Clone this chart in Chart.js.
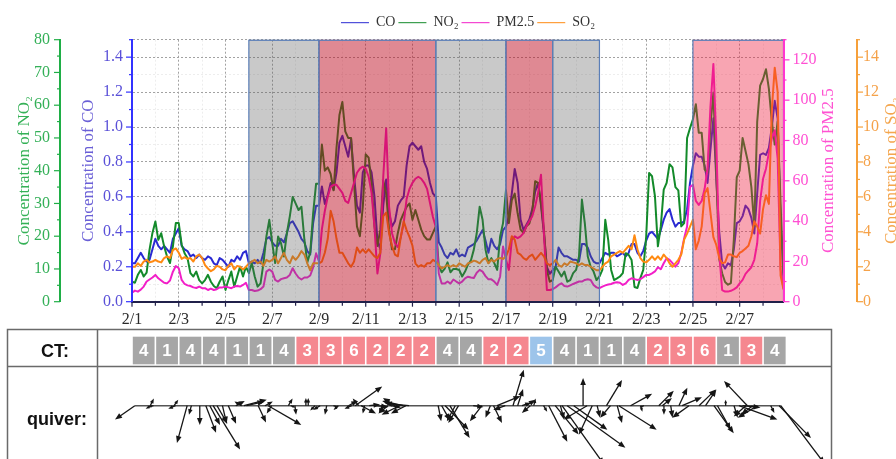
<!DOCTYPE html>
<html>
<head>
<meta charset="utf-8">
<script src="https://cdn.jsdelivr.net/npm/chart.js@4.4.0/dist/chart.umd.min.js"></script>
<style>
  html, body { margin: 0; padding: 0; background: #ffffff; overflow: hidden; }
  #wrap { position: relative; width: 896px; height: 459px; }
</style>
</head>
<body>
<div id="wrap"><canvas id="chart" width="896" height="459"></canvas></div>
<script>
// ---- time base: one sample every 3 h, 2/1 00:00 -> 2/28 21:00 (x in days since 2/1) ----
const STEP_DAYS = 3 / 24;

// CO concentration (mg/m3), 8 samples per day
const co = [
  0.22,0.22,0.25,0.28,0.25,0.23,0.24,0.30,
  0.36,0.32,0.30,0.32,0.30,0.28,0.36,0.39,
  0.42,0.32,0.30,0.29,0.26,0.27,0.25,0.27,
  0.25,0.24,0.26,0.25,0.22,0.21,0.25,0.24,
  0.22,0.20,0.24,0.23,0.26,0.24,0.28,0.29,
  0.22,0.23,0.22,0.24,0.22,0.28,0.36,0.37,
  0.34,0.32,0.32,0.36,0.34,0.39,0.45,0.46,
  0.43,0.40,0.36,0.34,0.29,0.27,0.45,0.55,
  0.55,0.66,0.56,0.61,0.68,0.64,0.74,0.91,
  0.95,0.89,0.83,0.93,0.72,0.55,0.51,0.74,
  0.78,0.78,0.74,0.60,0.35,0.30,0.55,0.70,
  0.51,0.43,0.46,0.55,0.58,0.60,0.78,0.89,
  0.91,0.89,0.87,0.89,0.80,0.76,0.68,0.62,
  0.60,0.34,0.31,0.27,0.25,0.28,0.27,0.30,
  0.26,0.27,0.26,0.31,0.32,0.33,0.35,0.38,
  0.41,0.35,0.28,0.36,0.32,0.30,0.33,0.41,
  0.43,0.49,0.62,0.76,0.68,0.47,0.41,0.44,
  0.47,0.53,0.63,0.68,0.55,0.39,0.20,0.16,
  0.18,0.20,0.31,0.28,0.26,0.26,0.25,0.24,
  0.24,0.23,0.33,0.33,0.31,0.26,0.23,0.22,
  0.22,0.25,0.28,0.27,0.28,0.28,0.26,0.27,
  0.28,0.26,0.28,0.33,0.33,0.28,0.26,0.29,
  0.35,0.39,0.40,0.38,0.36,0.41,0.47,0.51,
  0.53,0.47,0.43,0.45,0.45,0.46,0.53,0.68,
  0.78,0.85,0.83,0.83,0.78,0.68,0.87,1.05,
  0.70,0.40,0.22,0.19,0.22,0.21,0.30,0.45,
  0.46,0.49,0.55,0.53,0.48,0.39,0.62,0.84,
  0.85,0.84,0.88,1.00,1.15,1.05,0.45,0.15
];

// NO2 concentration
const no2 = [
  6.1,5.8,8.2,9.7,7.7,8.9,15.9,21,
  24.5,18.9,20.9,16.9,13.8,11.8,16.9,24,
  24,17.4,14.8,13.3,8.7,7.7,9.2,6.6,
  5.6,6.6,8.2,6.1,4.8,4.1,6.1,7.7,
  3.6,6.6,9.2,4.6,7.7,10.7,7.7,10.7,
  8.7,11.8,7.7,4.6,5.6,11.8,19.9,25,
  17.9,11.8,19.9,17.9,13.8,20.9,26,32,
  30,28,29,19,12,15,27,36,
  36,48,40,41,39,34,47,57,
  61,52,50,50,36,23,20,29,
  45,44,36,23,17,22,37,33,
  22,16,16,21,25,27,29,30,
  25,28,25,22,20,19,19,21,
  23,11,9,10,12,9,10,10,
  9.7,7.7,9.2,11.3,12.6,15.9,20.9,29,
  25,15.9,11.8,13.3,11.8,9.7,19.9,24,
  34,24,31,33,27,22,21,23,
  23.9,27.1,36.8,36.3,30.2,21.9,9.7,6.1,
  6.6,10.7,9.2,7.7,9.2,6.1,6.6,8.7,
  9.7,13.8,31.2,23.9,13.8,10.7,9.2,6.6,
  7.7,9.7,25,18.9,9.7,6.6,7.1,7.7,
  8.7,14.8,14.3,12.7,4.5,4.2,7.2,9.7,
  19.9,39.3,38.3,32.2,16.9,23,34.2,36.3,
  42,41,35,34,23,24,50,53,
  55.7,60.3,51.6,51.6,40.4,39.3,53.7,63.9,
  39,13,8.7,6,5.2,5.7,19,38,
  40,50,46,42,35,23,55,66,
  68,71,65,55,48,55,30,7
];

// PM2.5 concentration
const pm25 = [
  4.5,5.5,5.0,6.0,7.5,10,11,12,
  13.3,11.6,10.5,9.4,9.1,10.5,14.9,17.7,
  16.6,10.8,8.8,8.1,7.8,7.1,6.8,7.5,
  6.7,6.7,5.8,6.5,5.8,6.2,7.1,7.1,
  7.5,7.1,6.7,7.5,7.8,7.5,8.3,9.4,
  5.8,5.8,5.3,5.5,6.2,7.5,14.9,16,
  14.9,10.8,10,11.2,11.6,12,13.3,16.6,
  14,12,11,12,12,13,17,24,
  20,36,45,52,57,58,58,56,
  54,50,49,54,59,64,66,67,
  66,62,54,37,14,24,62,86,
  47,34,29,27,32,39,51,56,
  59,61,62,61,59,56,49,42,
  37,14,9,9,10,9,11,10,
  9.1,10,11.6,12.4,12,11.8,14.4,15.8,
  14.9,12.7,11.1,11.1,10,8.3,12.4,27.4,
  20.8,15.8,30.7,32.4,31.5,32.4,34,37.4,
  39.9,42.4,47.4,54,63,34,5.8,5.8,
  6.2,7.1,8.3,9.1,7.8,7.5,8.1,8.8,
  9.4,10,10,10.8,11.1,10.8,8.3,7.1,
  6.7,7.5,8.1,8.5,8.8,9.4,9.7,9.4,
  8.3,9.1,10.8,11.6,11.2,10.8,11.2,12.2,
  13.3,13.3,14.1,15,17.1,16.1,19.1,21.6,
  20.8,19.1,17.4,19.1,24.1,31.5,37.3,57,
  58,50,48,50,56,66,97,118,
  80,24,5.8,5.0,5.0,5.4,6.1,7.1,
  9.1,10.8,13.8,15.5,17.1,20.8,29,50,
  61,66,74,81,85,71,16,6.6
];

// SO2 concentration
const so2 = [
  2.0,2.0,2.2,2.05,2.3,2.4,2.25,2.3,
  2.4,2.3,2.25,2.5,2.6,2.5,2.95,3.05,
  2.8,2.45,2.55,2.45,2.5,2.3,2.6,2.7,
  2.5,2.1,1.9,1.75,1.85,2.05,2.0,1.85,
  1.8,2.05,2.2,1.85,2.05,2.0,1.85,2.0,
  2.2,2.3,2.4,2.2,2.3,2.05,2.4,2.3,
  2.4,2.6,2.2,2.5,2.8,2.4,2.2,2.6,
  2.4,2.6,2.9,2.7,2.2,1.8,2.2,2.2,
  2.2,2.3,2.8,3.6,5.2,4.6,3.6,2.8,
  2.8,2.5,2.2,2.0,2.3,3.1,2.8,3.0,
  2.8,3.0,2.8,2.6,2.5,2.8,4.9,5.1,
  3.9,3.2,2.7,2.6,3.7,4.6,4.1,3.7,
  3.2,2.2,2.0,2.1,2.0,2.2,2.2,2.4,
  2.3,2.1,1.9,2.0,2.1,2.0,2.1,2.0,
  2.2,2.1,2.0,2.2,2.25,2.35,2.3,2.2,
  2.4,2.5,2.2,2.4,2.3,2.45,2.5,2.45,
  2.6,3.0,3.75,3.55,2.8,2.7,2.5,2.4,
  2.6,2.7,2.4,2.6,2.8,2.6,2.2,2.1,
  2.2,2.4,2.1,2.0,2.2,2.1,2.3,2.25,
  2.2,2.1,2.2,2.1,2.1,2.0,1.9,1.8,
  1.8,2.0,2.2,2.3,2.6,2.7,2.8,2.9,
  2.8,3.0,3.2,3.0,3.8,3.0,2.5,2.3,
  2.25,2.4,2.6,2.4,2.6,2.4,2.7,2.5,
  2.2,2.0,2.2,2.4,2.7,3.55,3.9,4.3,
  4.7,3.0,3.5,4.3,6.2,6.5,5.1,3.7,
  3.25,2.5,2.2,2.25,2.7,2.7,2.6,2.55,
  2.8,2.9,3.05,3.2,3.75,4.6,4.3,3.9,
  5.3,6.1,5.6,11.0,13.4,12.0,1.5,0.7
];

// date labels on every second day
const xTickLabels = ['2/1','2/3','2/5','2/7','2/9','2/11','2/13','2/15','2/17','2/19','2/21','2/23','2/25','2/27'];

// pollution episodes shaded behind the series (start/end in days since 2/1)
const episodeStart = [5, 8, 13, 16, 18, 24];
const episodeEnd   = [8, 13, 16, 18, 20, 27.875];
const episodeKind  = ['gray', 'red', 'gray', 'red', 'gray', 'pink'];

// daily circulation type
const ctType = [4,1,4,4,1,1,4,3,3,6,2,2,2,4,4,2,2,5,4,1,1,4,2,3,6,1,3,4];

// wind vectors (day of origin, u and v components in m/s)
const quiverDay = [0.12,0.78,0.84,0.92,1.80,1.86,2.36,2.54,2.90,3.16,3.33,3.47,3.64,3.87,4.12,4.44,4.69,4.79,4.90,5.40,
  5.69,5.83,5.97,6.69,6.79,6.97,7.44,7.54,7.83,8.05,8.33,8.62,8.83,9.26,9.40,9.55,9.70,9.80,9.95,10.15,
  10.40,10.70,10.95,11.10,11.25,11.45,11.60,11.72,11.85,13.10,13.25,13.40,13.60,13.83,13.97,14.60,14.97,15.33,15.47,15.62,
  15.97,16.30,16.50,16.69,16.87,17.04,17.19,17.61,17.83,18.11,18.33,18.40,18.62,18.90,19.30,19.47,19.69,19.90,20.30,20.47,
  20.76,20.83,21.33,21.76,21.90,22.54,22.69,22.76,23.05,23.40,23.54,23.83,24.26,24.54,24.90,25.05,25.40,25.76,25.97,26.12,
  26.26,26.33,26.55,26.76,27.33,27.69,27.76];
const quiverU = [-3.3,0.6,-1.0,-0.9,0.7,-1.2,-1.7,-0.4,0.0,1.7,1.7,4.5,1.7,0.7,1.3,1.5,-1.2,3.8,3.0,1.3,
  1.3,5.5,-0.8,0.7,0.8,0.2,0.0,0.0,-0.8,-1.2,-0.3,0.8,-0.8,1.5,-1.2,4.5,-1.0,2.5,-0.3,1.8,
  2.2,-0.5,-1.6,1.6,-2.0,-3.0,-3.5,-2.5,-4.0,0.5,1.4,3.9,3.3,-1.4,-1.7,1.7,-2.0,-0.8,1.4,3.9,
  -2.0,1.8,0.9,1.4,1.5,-1.4,0.3,0.6,3.1,3.9,0.6,7.0,9.7,5.6,0.0,-3.9,-2.2,0.5,2.6,-1.7,
  0.8,6.3,3.6,0.3,-0.7,2.5,1.6,0.0,0.3,1.4,3.3,-2.8,2.8,1.8,3.3,2.2,0.0,0.6,6.4,3.0,
  -2.0,-3.9,-1.9,-3.3,0.6,5.3,7.3];
const quiverV = [-2.3,1.2,-0.5,-0.2,1.0,-0.5,-6.2,-1.5,-3.2,-4.5,-3.2,-7.3,-3.0,-3.0,-3.0,0.8,0.7,1.0,0.7,-2.8,
  0.7,-3.2,-1.3,1.2,-0.3,-1.5,1.3,1.3,-0.8,-0.7,-1.5,-0.3,-0.7,0.8,-0.5,3.2,1.2,-1.3,-1.3,0.2,
  -0.2,-1.2,-1.3,-0.3,1.3,-1.5,0.8,-1.3,0.4,-2.6,-2.5,-4.0,-5.4,-2.6,-2.9,-0.2,-2.6,-2.0,-2.9,1.6,
  -0.7,6.0,2.8,0.5,1.0,-1.2,1.2,-1.0,-6.0,-4.8,-2.3,-9.8,-7.0,-4.0,4.6,-2.3,-4.8,-2.0,4.3,-2.0,
  -2.9,-4.0,2.0,-1.0,-0.3,2.5,1.3,-1.5,-2.0,3.0,1.4,-2.0,2.7,2.7,-4.6,-4.0,1.0,-2.0,-2.3,-0.3,
  -1.8,4.1,-1.5,-2.0,-1.2,-5.4,-9.7];

// ---- styling ----
const SERIF = '"Liberation Serif", "Times New Roman", serif';
const SANS = '"Liberation Sans", Arial, sans-serif';
const LINE = { co: '#2a2ad2', no2: '#138a2a', pm: '#f21fc8', so2: '#ff8a12' };
const AXIS = {
  yNO2: { line: '#1fae46', text: '#34b058', title: '#35b157' },
  yCO:  { line: '#3232ff', text: '#5a50d8', title: '#6a5fd6' },
  yPM:  { line: '#ff36d0', text: '#ff4fd3', title: '#ff52d2' },
  ySO2: { line: '#f6a03a', text: '#f5a24a', title: '#f4a64e' }
};
const EPISODE_FILL = {
  gray: 'rgba(90,90,90,0.33)',
  red:  'rgba(189,9,29,0.48)',
  pink: 'rgba(237,30,62,0.4)'
};
const CT_FILL = { 1: '#a6a6a6', 4: '#a6a6a6', 2: '#f5878f', 3: '#f5878f', 6: '#f5878f', 5: '#9dc4ea' };

const isMultiple = (v, step) => Math.abs(v / step - Math.round(v / step)) < 1e-6;
const toPoints = arr => arr.map((v, i) => ({ x: i * STEP_DAYS, y: v }));

function yAxis(id, position, weight, max, step, labelStep, fmt, width, pad) {
  const withGrid = id === 'yCO';
  return {
    type: 'linear', position, weight, min: 0, max,
    ticks: {
      stepSize: step, autoSkip: false, padding: pad, color: AXIS[id].text,
      font: { family: SERIF, size: 16 },
      callback: v => (isMultiple(v, labelStep) ? fmt(v) : '')
    },
    grid: {
      display: withGrid, drawOnChartArea: withGrid, drawTicks: false, lineWidth: 1,
      color: c => (isMultiple(c.tick.value, labelStep) || c.tick.value >= max - 1e-9) ? '#a2a2a2' : 'rgba(0,0,0,0.07)'
    },
    border: { display: true, color: AXIS[id].line, width: 2, z: 1, dash: withGrid ? [2, 2] : [] },
    title: { display: false },
    afterFit: s => { s.width = width; }
  };
}

// ---- drawing helpers for the overlays and the lower table ----
function arrow(ctx, x0, y0, x1, y1) {
  const dx = x1 - x0, dy = y1 - y0, L = Math.hypot(dx, dy);
  if (L < 0.5) return;
  const ux = dx / L, uy = dy / L;
  const h = Math.min(7, L * 0.6), w = h * 0.4;
  ctx.beginPath();
  ctx.moveTo(x0, y0);
  ctx.lineTo(x1 - ux * h * 0.7, y1 - uy * h * 0.7);
  ctx.stroke();
  ctx.beginPath();
  ctx.moveTo(x1, y1);
  ctx.lineTo(x1 - ux * h - uy * w, y1 - uy * h + ux * w);
  ctx.lineTo(x1 - ux * h + uy * w, y1 - uy * h - ux * w);
  ctx.closePath();
  ctx.fill();
}

const legendShift = {
  id: 'legendShift',
  afterLayout(chart) {
    const l = chart.legend;
    if (l) { l.left += 20; l.right += 20; }
  }
};

const panels = {
  id: 'panels',
  afterDatasetsDraw(chart) {
    const { ctx, chartArea: a } = chart;
    const x = chart.scales.x;
    ctx.save();
    ctx.beginPath();
    ctx.rect(a.left, a.top - 1, a.right - a.left, a.bottom - a.top + 1);
    ctx.clip();
    for (let i = 0; i < episodeStart.length; i++) {
      const x0 = x.getPixelForValue(episodeStart[i]);
      const x1 = x.getPixelForValue(episodeEnd[i]);
      ctx.fillStyle = EPISODE_FILL[episodeKind[i]];
      ctx.fillRect(x0, a.top, x1 - x0, a.bottom - a.top);
      ctx.strokeStyle = '#5b7fb8';
      ctx.lineWidth = 1.2;
      ctx.strokeRect(x0, a.top + 0.6, x1 - x0, a.bottom - a.top);
    }
    ctx.restore();
  },
  afterDraw(chart) {
    const { ctx, chartArea: a } = chart;
    const x = chart.scales.x;
    const line = (x0, y0, x1, y1) => { ctx.beginPath(); ctx.moveTo(x0, y0); ctx.lineTo(x1, y1); ctx.stroke(); };

    // tick marks: longer on labelled values, shorter in between
    ctx.save();
    ctx.lineWidth = 1.2;
    ctx.strokeStyle = '#20204a';
    x.ticks.forEach(t => {
      const p = x.getPixelForValue(t.value);
      line(p, a.bottom, p, a.bottom + (t.value % 2 === 0 ? 5 : 4));
    });
    [['yNO2', -1, 10], ['yCO', -1, 0.2], ['yPM', 1, 20], ['ySO2', 1, 2]].forEach(([id, dir, every]) => {
      const s = chart.scales[id];
      const edge = dir < 0 ? s.right : s.left;
      ctx.strokeStyle = AXIS[id].line;
      s.ticks.forEach(t => {
        const p = s.getPixelForValue(t.value);
        line(edge, p, edge + dir * (isMultiple(t.value, every) ? 6 : 3), p);
      });
    });
    ctx.restore();

    // rotated axis titles, all reading bottom-to-top
    const midY = (a.top + a.bottom) / 2;
    [['yNO2', 'Concentration of NO₂', 25], ['yCO', 'Concentration of CO', 29],
     ['yPM', 'Concentration of PM2.5', 45], ['ySO2', 'Concentration of SO₂', 35]].forEach(([id, text, off]) => {
      const s = chart.scales[id];
      ctx.save();
      ctx.translate(s.left + off, midY);
      ctx.rotate(-Math.PI / 2);
      ctx.font = `17px ${SERIF}`;
      ctx.fillStyle = AXIS[id].title;
      ctx.textAlign = 'center';
      ctx.textBaseline = 'middle';
      ctx.fillText(text, 0, 0);
      ctx.restore();
    });

    // lower table frame
    const T = { left: 7.5, right: 831.5, top: 329.5, mid: 366.5, col: 97.5, bottom: 470 };
    ctx.save();
    ctx.strokeStyle = '#6a6a6a';
    ctx.lineWidth = 1.5;
    ctx.beginPath();
    ctx.moveTo(T.left, T.bottom); ctx.lineTo(T.left, T.top); ctx.lineTo(T.right, T.top); ctx.lineTo(T.right, T.bottom);
    ctx.moveTo(T.left, T.mid); ctx.lineTo(T.right, T.mid);
    ctx.moveTo(T.col, T.top); ctx.lineTo(T.col, T.bottom);
    ctx.stroke();

    ctx.fillStyle = '#111';
    ctx.font = `bold 18px ${SANS}`;
    ctx.textAlign = 'center';
    ctx.textBaseline = 'middle';
    ctx.fillText('CT:', 55, 352);
    ctx.fillText('quiver:', 57, 420);

    // circulation type cells, one per day
    const cellTop = 336.7, cellBottom = 364.3;
    ctType.forEach((t, d) => {
      const x0 = x.getPixelForValue(d) + 0.8;
      const x1 = x.getPixelForValue(d + 1) - 0.8;
      ctx.fillStyle = CT_FILL[t];
      ctx.fillRect(x0, cellTop, x1 - x0, cellBottom - cellTop);
      ctx.fillStyle = '#ffffff';
      ctx.font = `bold 17px ${SANS}`;
      ctx.fillText(String(t), (x0 + x1) / 2, (cellTop + cellBottom) / 2 + 1);
    });

    // wind vectors along a zero line
    const baseY = 405.7, k = 6;
    ctx.strokeStyle = '#555';
    ctx.lineWidth = 1.6;
    line(x.getPixelForValue(quiverDay[0]), baseY, x.getPixelForValue(quiverDay[quiverDay.length - 1]), baseY);
    ctx.strokeStyle = '#151515';
    ctx.fillStyle = '#151515';
    ctx.lineWidth = 1.3;
    quiverDay.forEach((d, i) => {
      const x0 = x.getPixelForValue(d);
      arrow(ctx, x0, baseY, x0 + quiverU[i] * k, baseY - quiverV[i] * k);
    });
    ctx.restore();
  }
};

Chart.defaults.font.family = SERIF;

new Chart(document.getElementById('chart'), {
  type: 'line',
  data: {
    datasets: [
      { label: 'CO',    data: toPoints(co),   yAxisID: 'yCO',  borderColor: LINE.co,  backgroundColor: LINE.co,  order: 3 },
      { label: 'NO₂',   data: toPoints(no2),  yAxisID: 'yNO2', borderColor: LINE.no2, backgroundColor: LINE.no2, order: 2 },
      { label: 'PM2.5', data: toPoints(pm25), yAxisID: 'yPM',  borderColor: LINE.pm,  backgroundColor: LINE.pm,  order: 1 },
      { label: 'SO₂',   data: toPoints(so2),  yAxisID: 'ySO2', borderColor: LINE.so2, backgroundColor: LINE.so2, order: 0 }
    ]
  },
  options: {
    responsive: false,
    animation: false,
    devicePixelRatio: 1,
    events: [],
    layout: { padding: { top: 12.7, bottom: 130.3, left: 0, right: 0 } },
    elements: {
      line: { borderWidth: 2, tension: 0, borderJoinStyle: 'round' },
      point: { radius: 0 }
    },
    plugins: {
      tooltip: { enabled: false },
      legend: {
        position: 'top',
        labels: {
          usePointStyle: true, pointStyle: 'line', pointStyleWidth: 28, boxHeight: 14,
          padding: 3, color: '#333', font: { family: SERIF, size: 14 },
          sort: (a, b) => a.datasetIndex - b.datasetIndex
        }
      }
    },
    scales: {
      x: {
        type: 'linear', position: 'bottom', min: 0, max: 27.875,
        ticks: {
          stepSize: 1, includeBounds: false, autoSkip: false, maxRotation: 0, minRotation: 0,
          padding: 8, color: '#2a2a2a', font: { family: SERIF, size: 16 },
          callback: v => (v % 2 === 0 ? xTickLabels[v / 2] : '')
        },
        grid: {
          drawTicks: false, lineWidth: 1,
          color: c => (c.tick.value % 2 === 0 ? '#a2a2a2' : 'rgba(0,0,0,0.07)')
        },
        border: { display: true, color: '#20204a', width: 2, z: 1, dash: [2, 2] },
        afterFit: s => { s.height = 27; }
      },
      yNO2: yAxis('yNO2', 'left', 2, 80, 5, 10, v => String(v), 60, 10),
      yCO:  yAxis('yCO', 'left', 1, 1.5, 0.1, 0.2, v => v.toFixed(1), 72, 9),
      yPM:  yAxis('yPM', 'right', 0, 130, 10, 20, v => String(v), 73.5, 9),
      ySO2: yAxis('ySO2', 'right', 1, 15, 1, 2, v => String(v), 39, 6)
    }
  },
  plugins: [legendShift, panels]
});
</script>
</body>
</html>
